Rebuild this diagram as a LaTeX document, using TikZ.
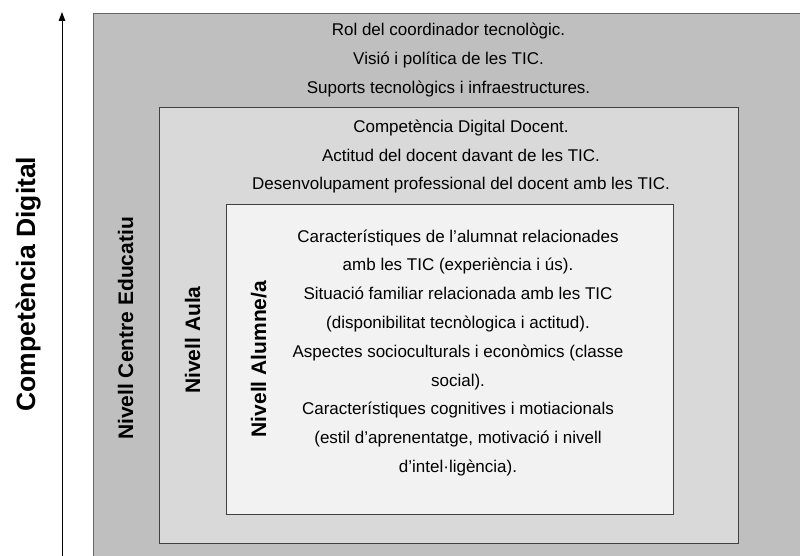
\documentclass[tikz,border=0pt]{standalone}
\usepackage{fontspec}
\setmainfont{Liberation Sans}
\usepackage{xcolor}
\usetikzlibrary{arrows.meta,positioning}

\definecolor{outerfill}{RGB}{191,191,191}
\definecolor{midfill}{RGB}{217,217,217}
\definecolor{innerfill}{RGB}{242,242,242}
\definecolor{edgegray}{RGB}{64,64,64}

\begin{document}
\begin{tikzpicture}[x=1pt, y=-1pt,
    level/.style={draw=edgegray, line width=0.9pt},
    txtline/.style={anchor=base, inner sep=0pt, font=\fontsize{17}{20}\selectfont},
    levellabel/.style={anchor=base, rotate=90, inner sep=0pt, font=\fontsize{21}{24}\selectfont\bfseries},
    arrow/.style={-{Triangle[width=6.5pt,length=9pt]}, line width=1pt}
]
    \useasboundingbox (0,0) rectangle (800,556);
    \clip (0,0) rectangle (800,556);

    % Levels
    \draw[level, fill=outerfill, draw=edgegray!80] (93,13.5) rectangle (812,570);
    \draw[level, fill=midfill] (159,107) rectangle (738,543);
    \draw[level, fill=innerfill] (226,204) rectangle (673,514);

    % Axis
    \coordinate (axisbase) at (62,560);
    \coordinate (axistip) at (62,12);
    \draw[arrow] (axisbase) -- (axistip);
    \node[anchor=base, rotate=90, inner sep=0pt, font=\fontsize{26.5}{30}\selectfont\bfseries] (axislabel) at (35,284) {Competència Digital};

    % Labels
    \node[levellabel] (centre) at (133,328.5) {Nivell Centre Educatiu};
    \node[levellabel] (aula) at (200,340) {Nivell Aula};
    \node[levellabel] (alumne) at (266,359) {Nivell Alumne/a};

    % Centre
    \foreach \txt [count=\i] in {Rol del coordinador tecnològic.,
        Visió i política de les TIC.,
        Suports tecnològics i infraestructures.}
        \node[txtline] (centre\i) at (448.5,{36+28.6*(\i-1)}) {\txt};

    % Aula
    \foreach \txt [count=\i] in {Competència Digital Docent.,
        Actitud del docent davant de les TIC.,
        Desenvolupament professional del docent amb les TIC.}
        \node[txtline] (aula\i) at (461,{132.5+28.7*(\i-1)}) {\txt};

    % Alumne/a
    \foreach \txt [count=\i] in {Característiques de l’alumnat relacionades,
        amb les TIC (experiència i ús).,
        Situació familiar relacionada amb les TIC,
        (disponibilitat tecnòlogica i actitud).,
        Aspectes socioculturals i econòmics (classe,
        social).,
        Característiques cognitives i motiacionals,
        {(estil d’aprenentatge, motivació i nivell},
        d’intel·ligència).}
        \node[txtline] (alumne\i) at (458,{242+28.8*(\i-1)}) {\txt};
\end{tikzpicture}
\end{document}
